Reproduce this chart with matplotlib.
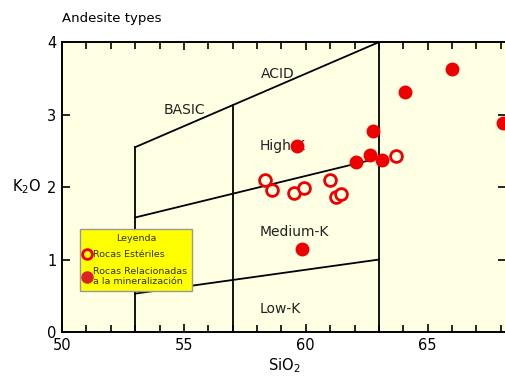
import matplotlib
matplotlib.use("Agg")
import matplotlib.pyplot as plt
from matplotlib.ticker import MultipleLocator
from matplotlib.lines import Line2D

# Data
esteriles_sio2 = [58.32, 58.63, 59.51, 59.92, 60.98, 61.23, 61.46, 63.69]
esteriles_k2o = [2.10, 1.96, 1.92, 1.99, 2.10, 1.86, 1.90, 2.43]
relacionadas_sio2 = [59.64, 59.85, 62.05, 62.65, 62.76, 63.14, 64.07, 65.98, 68.09]
relacionadas_k2o = [2.57, 1.15, 2.34, 2.44, 2.78, 2.37, 3.31, 3.63, 2.88]

# Field boundaries (Gill 1981)
upper_x = [53, 57, 63]
upper_y = [2.55, 3.13, 4.0]
highk_x = [53, 63]
highk_y = [1.58, 2.40]
lowk_x = [53, 63]
lowk_y = [0.53, 1.0]
verticals = [(53, 2.55), (57, 3.13), (63, 4.0)]

field_labels = [("ACID", 58.85, 3.56, "center"), ("BASIC", 55.04, 3.06, "center"),
                ("High-K", 58.1, 2.57, "left"), ("Medium-K", 58.1, 1.38, "left"),
                ("Low-K", 58.1, 0.32, "left")]

fig = plt.figure(figsize=(5.06, 3.76), dpi=100)
ax = fig.add_axes([0.1225, 0.117, 0.877, 0.771])
ax.set_facecolor("#FFFFE3")
ax.set_xlim(50, 68.2)
ax.set_ylim(0, 4)

lc = "black"
lw = 1.3
ax.plot(upper_x, upper_y, color=lc, lw=lw, zorder=2)
ax.plot(highk_x, highk_y, color=lc, lw=lw, zorder=2)
ax.plot(lowk_x, lowk_y, color=lc, lw=lw, zorder=2)
for vx, vy in verticals:
    ax.plot([vx, vx], [0, vy], color=lc, lw=lw, zorder=2)

for txt, x, y, ha in field_labels:
    ax.text(x, y, txt, ha=ha, va="center", fontsize=10, color="#222222", zorder=3)

ax.plot(esteriles_sio2, esteriles_k2o, ls="none", marker="o", ms=8.5,
        mfc="#FFFFE3", mec="#EE0000", mew=2.0, zorder=4, clip_on=False)
ax.plot(relacionadas_sio2, relacionadas_k2o, ls="none", marker="o", ms=9,
        mfc="#EE0000", mec="#EE0000", zorder=4, clip_on=False)

ax.xaxis.set_major_locator(MultipleLocator(5))
ax.xaxis.set_minor_locator(MultipleLocator(1))
ax.yaxis.set_major_locator(MultipleLocator(1))
ax.tick_params(which="both", direction="in", top=True, right=True, width=1.2,
               labelsize=10.5, pad=4)
ax.tick_params(which="major", length=6)
ax.tick_params(which="minor", length=5)
for s in ax.spines.values():
    s.set_linewidth(1.4)

ax.set_xlabel("SiO$_2$", fontsize=10.5, labelpad=3)
ax.set_ylabel("K$_2$O", fontsize=10.5, rotation=0, ha="right", va="center", labelpad=4)
fig.text(0.1225, 0.95, "Andesite types", fontsize=9.5, ha="left", va="center")

handles = [Line2D([], [], ls="none", marker="o", ms=7, mfc="#FFFF00", mec="#EE0000", mew=2.0),
           Line2D([], [], ls="none", marker="o", ms=8, mfc="#DD2222", mec="#DD2222")]
leg = ax.legend(handles, ["Rocas Estériles", "Rocas Relacionadas\na la mineralización"],
                title="Leyenda", loc="upper left", bbox_to_anchor=(0.04, 0.355),
                fontsize=6.8, title_fontsize=6.8, frameon=True, fancybox=False,
                handlelength=0.6, handletextpad=0.35, borderpad=0.5, labelspacing=0.8,
                borderaxespad=0, labelcolor="#333311")
leg.get_title().set_color("#333311")
leg.get_frame().set_facecolor("#FFFF00")
leg.get_frame().set_edgecolor("#999999")
leg.get_frame().set_alpha(1)
leg.set_zorder(5)

fig.savefig("out.png", dpi=100)
